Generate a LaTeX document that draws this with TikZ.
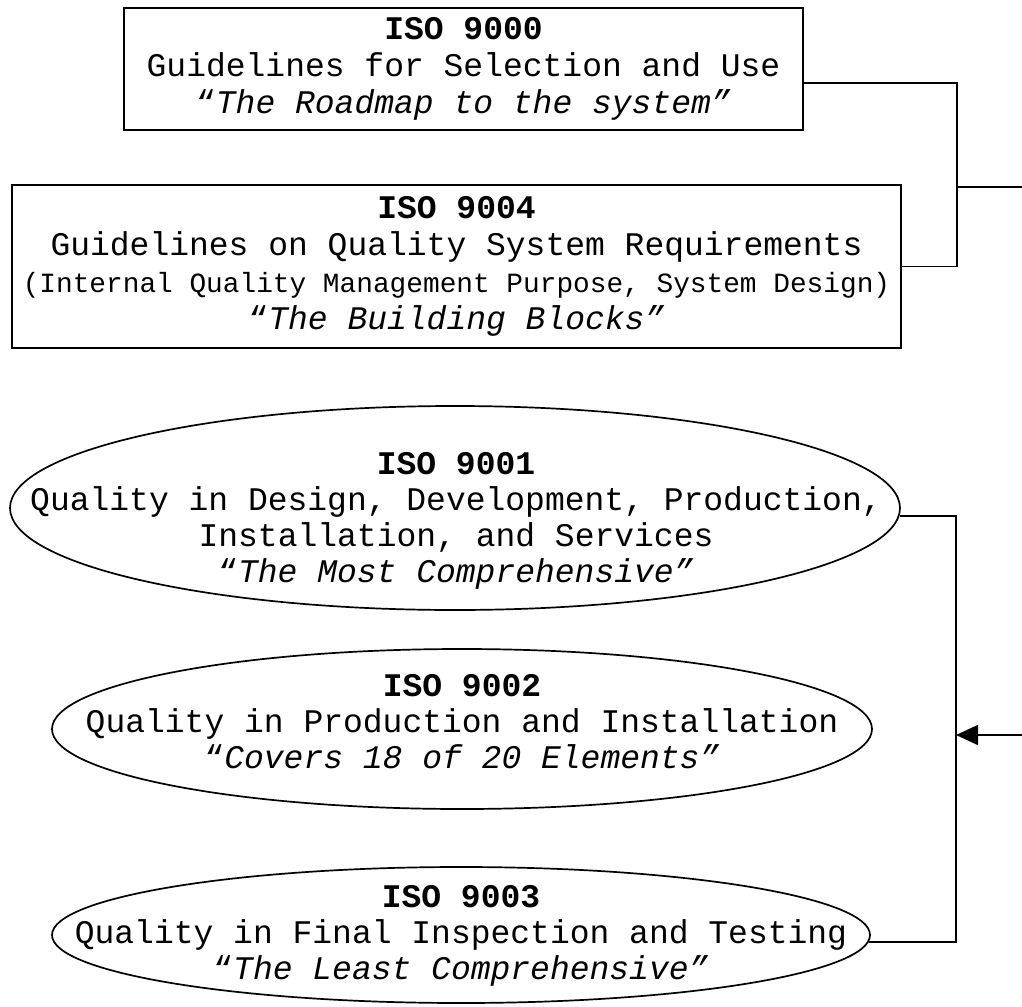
\documentclass[tikz,border=0pt]{standalone}
\usepackage{fontspec}
\setmainfont{Liberation Mono}
\usetikzlibrary{arrows.meta,shapes.geometric}
\tikzset{
  isobox/.style={draw, line width=1.7pt, inner sep=0pt, align=center,
    font=\fontsize{33}{37}\selectfont},
  isoring/.style={ellipse, draw, line width=1.7pt, inner sep=0pt},
  isotext/.style={inner sep=0pt, align=center, font=\fontsize{33}{36}\selectfont},
  link/.style={line width=1.7pt},
  feed/.style={link, -{Triangle[length=22pt,width=20pt]}}
}

\begin{document}
\begin{tikzpicture}[x=1pt,y=-1pt]
  \useasboundingbox (0,0) rectangle (1022,1006);

  \node[isobox, minimum width=679pt, minimum height=122pt] (iso9000) at (463.5,69)
    {\textbf{ISO 9000}\\Guidelines for Selection and Use\\“\textit{The Roadmap to the system”}};
  \node[isobox, minimum width=889pt, minimum height=163pt] (iso9004) at (456.5,266.5)
    {\textbf{ISO 9004}\\Guidelines on Quality System Requirements\\
     {\fontsize{27.8}{37}\selectfont (Internal Quality Management Purpose, System Design)}\\
     “\textit{The Building Blocks”}};

  \node[isoring, minimum width=890pt, minimum height=204pt] (ring9001) at (455,508) {};
  \node[isotext] (iso9001) at (456,521)
    {\textbf{ISO 9001}\\Quality in Design, Development, Production,\\Installation, and Services\\
     “\textit{The Most Comprehensive”}};
  \node[isoring, minimum width=820pt, minimum height=160pt] (ring9002) at (462,729) {};
  \node[isotext] (iso9002) at (462,722)
    {\textbf{ISO 9002}\\Quality in Production and Installation\\“\textit{Covers 18 of 20 Elements”}};
  \node[isoring, minimum width=818pt, minimum height=136pt] (ring9003) at (461,935) {};
  \node[isotext] (iso9003) at (461,936)
    {\textbf{ISO 9003}\\Quality in Final Inspection and Testing\\“\textit{The Least Comprehensive”}};

  \coordinate (topbus) at (957,187);
  \coordinate (topout) at (1022,187);
  \coordinate (lowbus) at (956,735);
  \coordinate (lowin) at (1022,735);

  \draw[link] ([yshift=-14pt]iso9000.east) -| (topbus) |- (iso9004.east);
  \draw[link] (topbus) -- (topout);
  \draw[link] (ring9001.-1.3) -| (lowbus) |- (ring9003.-1.3);
  \draw[feed] (lowin) -- (lowbus);
\end{tikzpicture}
\end{document}
